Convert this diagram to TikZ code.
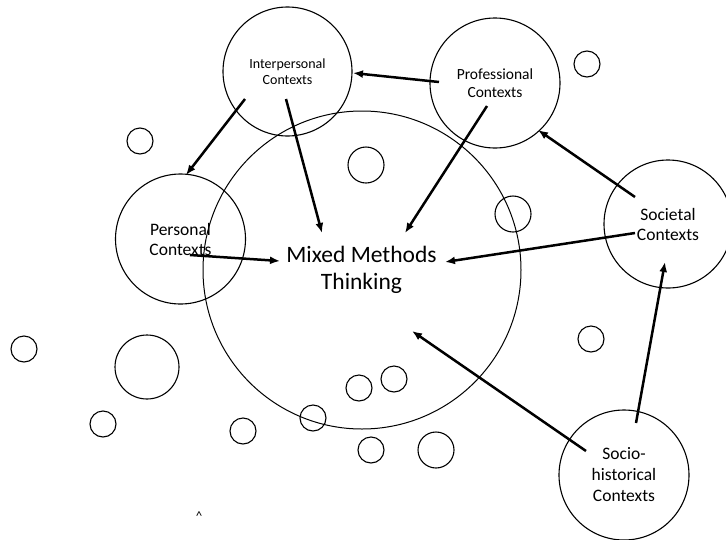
\documentclass[tikz,border=0pt]{standalone}
\usepackage{fontspec}
\setmainfont{Carlito}
\usetikzlibrary{arrows.meta}
\tikzset{
  ctx/.style={draw=black, line width=1.1pt, circle, inner sep=0pt, outer sep=0pt, align=center},
  dot/.style={draw=black, line width=1.1pt, circle, inner sep=0pt, outer sep=0pt},
  arr/.style={line width=2.5pt, -{Latex[length=10pt,width=8pt]}},
}
\begin{document}
\begin{tikzpicture}[x=1pt,y=-1pt]
\useasboundingbox (0,0) rectangle (726,539);
% big circle
\node[dot, line width=1pt, minimum size=318pt] (big) at (362,270) {};
% small circles
\node[dot, minimum size=26pt] (s1) at (140,141) {};
\node[dot, minimum size=26pt] (s2) at (24,349) {};
\node[dot, minimum size=64pt] (s3) at (147,367) {};
\node[dot, minimum size=26pt] (s4) at (103,424) {};
\node[dot, minimum size=26pt] (s5) at (243,431) {};
\node[dot, minimum size=26pt] (s6) at (359,388) {};
\node[dot, minimum size=26pt] (s7) at (394,379) {};
\node[dot, minimum size=26pt] (s8) at (313,418) {};
\node[dot, minimum size=26pt] (s9) at (371,450) {};
\node[dot, minimum size=36pt] (s10) at (436,450) {};
\node[dot, minimum size=36pt] (s11) at (366,165) {};
\node[dot, minimum size=36pt] (s12) at (513,214) {};
\node[dot, minimum size=26pt] (s13) at (587,64) {};
\node[dot, minimum size=26pt] (s14) at (591,339) {};
% context circles
\node[ctx, minimum size=129pt, font=\fontsize{14}{16}\selectfont] (inter) at (287.5,71.5) {Interpersonal\\Contexts};
\node[ctx, minimum size=130pt, font=\fontsize{15.5}{18}\selectfont] (prof) at (495,83) {Professional\\Contexts};
\node[ctx, minimum size=130pt, font=\fontsize{17.5}{20}\selectfont] (pers) at (180.5,239) {Personal\\Contexts};
\node[ctx, minimum size=128pt, font=\fontsize{17.5}{20}\selectfont] (soc) at (668,224) {Societal\\Contexts};
\node[ctx, minimum size=130pt, font=\fontsize{17.5}{21}\selectfont] (hist) at (624,475) {Socio-\\historical\\Contexts};
% centre text
\node[align=center, font=\fontsize{23.5}{27}\selectfont] (mmt) at (361.5,270) {Mixed Methods\\Thinking};
% caret
\node[font=\fontsize{13}{13}\selectfont, inner sep=0pt] (caret) at (199,516) {\textasciicircum};
% arrow end points
\coordinate (a1s) at (439,82);   \coordinate (a1e) at (353,73);
\coordinate (a2s) at (245,99);   \coordinate (a2e) at (186,175);
\coordinate (a3s) at (286,99);   \coordinate (a3e) at (322,233);
\coordinate (a4s) at (487,106);  \coordinate (a4e) at (405,233);
\coordinate (a5s) at (190,255);  \coordinate (a5e) at (280,261);
\coordinate (a6s) at (635,233);  \coordinate (a6e) at (445,262);
\coordinate (a7s) at (635,197);  \coordinate (a7e) at (538,130);
\coordinate (a8s) at (636,423);  \coordinate (a8e) at (665,262);
\coordinate (a9s) at (586,451);  \coordinate (a9e) at (412,331);
\draw[arr] (a1s) -- (a1e);
\draw[arr] (a2s) -- (a2e);
\draw[arr] (a3s) -- (a3e);
\draw[arr] (a4s) -- (a4e);
\draw[arr] (a5s) -- (a5e);
\draw[arr] (a6s) -- (a6e);
\draw[arr] (a7s) -- (a7e);
\draw[arr] (a8s) -- (a8e);
\draw[arr] (a9s) -- (a9e);
\end{tikzpicture}
\end{document}
